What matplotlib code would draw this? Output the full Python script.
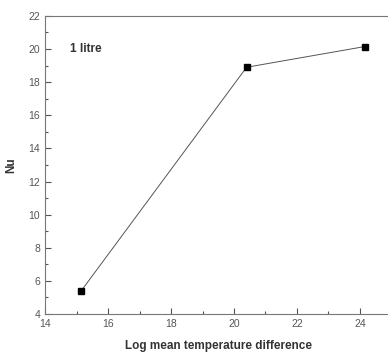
import matplotlib.pyplot as plt
from matplotlib.ticker import MultipleLocator

# ---------------- DATA ---------------- #
lmtd = [15.15, 20.4, 24.15]
nu = [5.4, 18.9, 20.15]

plt.rcParams['font.family'] = ['Liberation Sans', 'DejaVu Sans']

# ---------------- PLOT ---------------- #
fig = plt.figure(figsize=(3.88, 3.54), dpi=100)
ax = fig.add_axes([0.116, 0.113, 0.893, 0.842])

ax.plot(lmtd, nu, color='#555555', lw=0.7, marker='s', ms=4.5,
        mfc='black', mec='black')

ax.set_xlim(14, 25)
ax.set_ylim(4, 22)
ax.xaxis.set_major_locator(MultipleLocator(2))
ax.xaxis.set_minor_locator(MultipleLocator(1))
ax.yaxis.set_major_locator(MultipleLocator(2))
ax.yaxis.set_minor_locator(MultipleLocator(1))
ax.tick_params(which='both', direction='in', color='#555555', width=0.8,
               labelsize=7.5, labelcolor='#555555', top=False, right=False)
ax.tick_params(which='major', length=4)
ax.tick_params(which='minor', length=2.5)

for s in ax.spines.values():
    s.set_color('#777777')
    s.set_linewidth(0.8)

ax.set_xlabel('Log mean temperature difference', fontsize=8.5,
              fontweight='bold', color='#333333', labelpad=8)
ax.set_ylabel('Nu', fontsize=8.5, fontweight='bold', color='#333333',
              labelpad=8)

ax.text(14.78, 20.0, '1 litre', fontsize=8.5, fontweight='bold',
        color='#333333', va='center')

fig.savefig('out.png', dpi=100)
